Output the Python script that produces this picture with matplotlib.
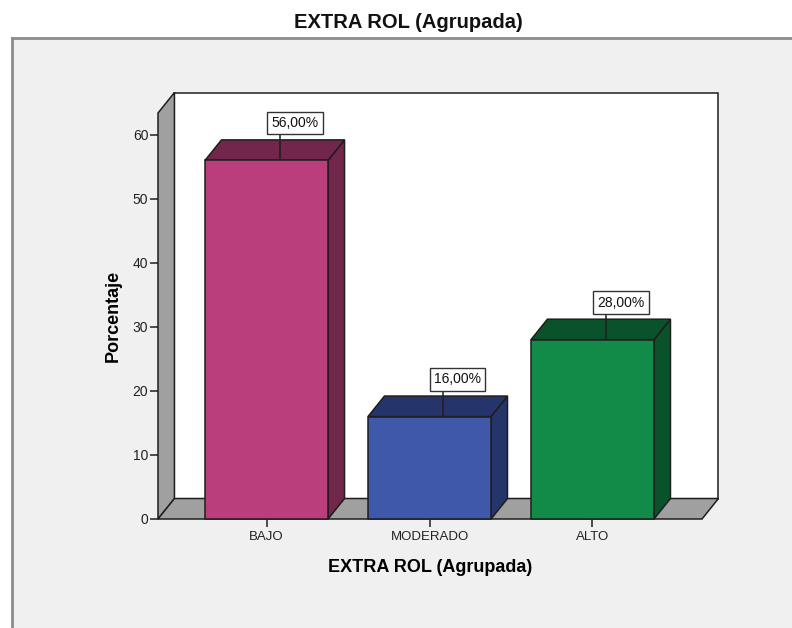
"""3D-style bar chart of the grouped EXTRA ROL percentages."""

import matplotlib.pyplot as plt
from matplotlib.patches import Polygon, Rectangle

plt.rcParams["font.family"] = ["Liberation Sans", "DejaVu Sans"]

categories = ["BAJO", "MODERADO", "ALTO"]
percentages = [56.0, 16.0, 28.0]
front_colors = ["#BA3E7C", "#3F58A9", "#118B47"]
dark_colors = ["#72264B", "#25356B", "#0A5229"]
y_ticks = [0, 10, 20, 30, 40, 50, 60]

W, H, DPI = 792, 628, 100
X0, X1 = -0.666, 2.672   # front frame in category units
YMAX = 63.4
DX, DY = 0.101, 3.2      # depth offset of the back wall
BAR_W = 0.755
LEAD_DX, LEAD_DY = 0.08, 4.0   # label leader: x offset and length
EDGE = "#1E1E1E"
WALL = "#A0A0A0"

fig = plt.figure(figsize=(W / DPI, H / DPI), dpi=DPI, facecolor="white")

# grey chart panel with its top/left border
fig.add_artist(Rectangle((12 / W, 0), 1, (H - 38) / H, transform=fig.transFigure,
                         facecolor="#F0F0F0", edgecolor="none", zorder=0))
fig.add_artist(plt.Line2D([12 / W, 1], [(H - 38) / H] * 2, transform=fig.transFigure,
                          color="#8C8C8C", lw=2, zorder=1))
fig.add_artist(plt.Line2D([12 / W] * 2, [0, (H - 38) / H], transform=fig.transFigure,
                          color="#8C8C8C", lw=2, zorder=1))

fig.text(408 / W, 1 - 22 / H, "EXTRA ROL (Agrupada)", ha="center", va="center",
         fontsize=14.5, fontweight="bold", color="#111111")

ax = fig.add_axes([158 / W, (H - 519) / H, 544 / W, 406 / H])
ax.set_xlim(X0, X1)
ax.set_ylim(0, YMAX)
ax.patch.set_visible(False)
for s in ax.spines.values():
    s.set_visible(False)

def poly(pts, fc, z):
    ax.add_patch(Polygon(pts, closed=True, facecolor=fc, edgecolor=EDGE,
                         lw=1.1, clip_on=False, zorder=z, joinstyle="miter"))

# back wall, left wall and floor
poly([(X0 + DX, DY), (X1 + DX, DY), (X1 + DX, YMAX + DY), (X0 + DX, YMAX + DY)], "white", 1)
poly([(X0, 0), (X0 + DX, DY), (X0 + DX, YMAX + DY), (X0, YMAX)], WALL, 2)
poly([(X0, 0), (X1, 0), (X1 + DX, DY), (X0 + DX, DY)], WALL, 2)

for i, (v, fc, dc) in enumerate(zip(percentages, front_colors, dark_colors)):
    l, r = i - BAR_W / 2, i + BAR_W / 2
    poly([(r, 0), (r + DX, DY), (r + DX, v + DY), (r, v)], dc, 3)
    poly([(l, v), (r, v), (r + DX, v + DY), (l + DX, v + DY)], dc, 3)
    poly([(l, 0), (r, 0), (r, v), (l, v)], fc, 4)

    # value label in a box, tied to the bar top by a short vertical leader
    lx = i + LEAD_DX
    ax.plot([lx, lx], [v, v + LEAD_DY], color=EDGE, lw=1.1, zorder=5,
            clip_on=False, solid_capstyle="butt")
    ax.annotate(f"{v:.2f}%".replace(".", ","), xy=(lx, v + LEAD_DY),
                xytext=(-6, 3.2), textcoords="offset points",
                ha="left", va="bottom", fontsize=10, color="#111111", zorder=6,
                annotation_clip=False,
                bbox=dict(boxstyle="square,pad=0.3", fc="white", ec="#333333", lw=1))

ax.set_yticks(y_ticks)
ax.set_xticks(range(len(categories)), categories)
ax.tick_params(axis="both", direction="out", length=5.5, width=1.1, color=EDGE,
               labelcolor="#222222", pad=1.5)
ax.tick_params(axis="y", labelsize=10)
ax.tick_params(axis="x", labelsize=9.5, pad=3)
ax.set_ylabel("Porcentaje", fontsize=13, fontweight="bold", labelpad=8)
ax.set_xlabel("EXTRA ROL (Agrupada)", fontsize=13, fontweight="bold", labelpad=12)

fig.savefig("out.png", dpi=DPI, facecolor="white")
